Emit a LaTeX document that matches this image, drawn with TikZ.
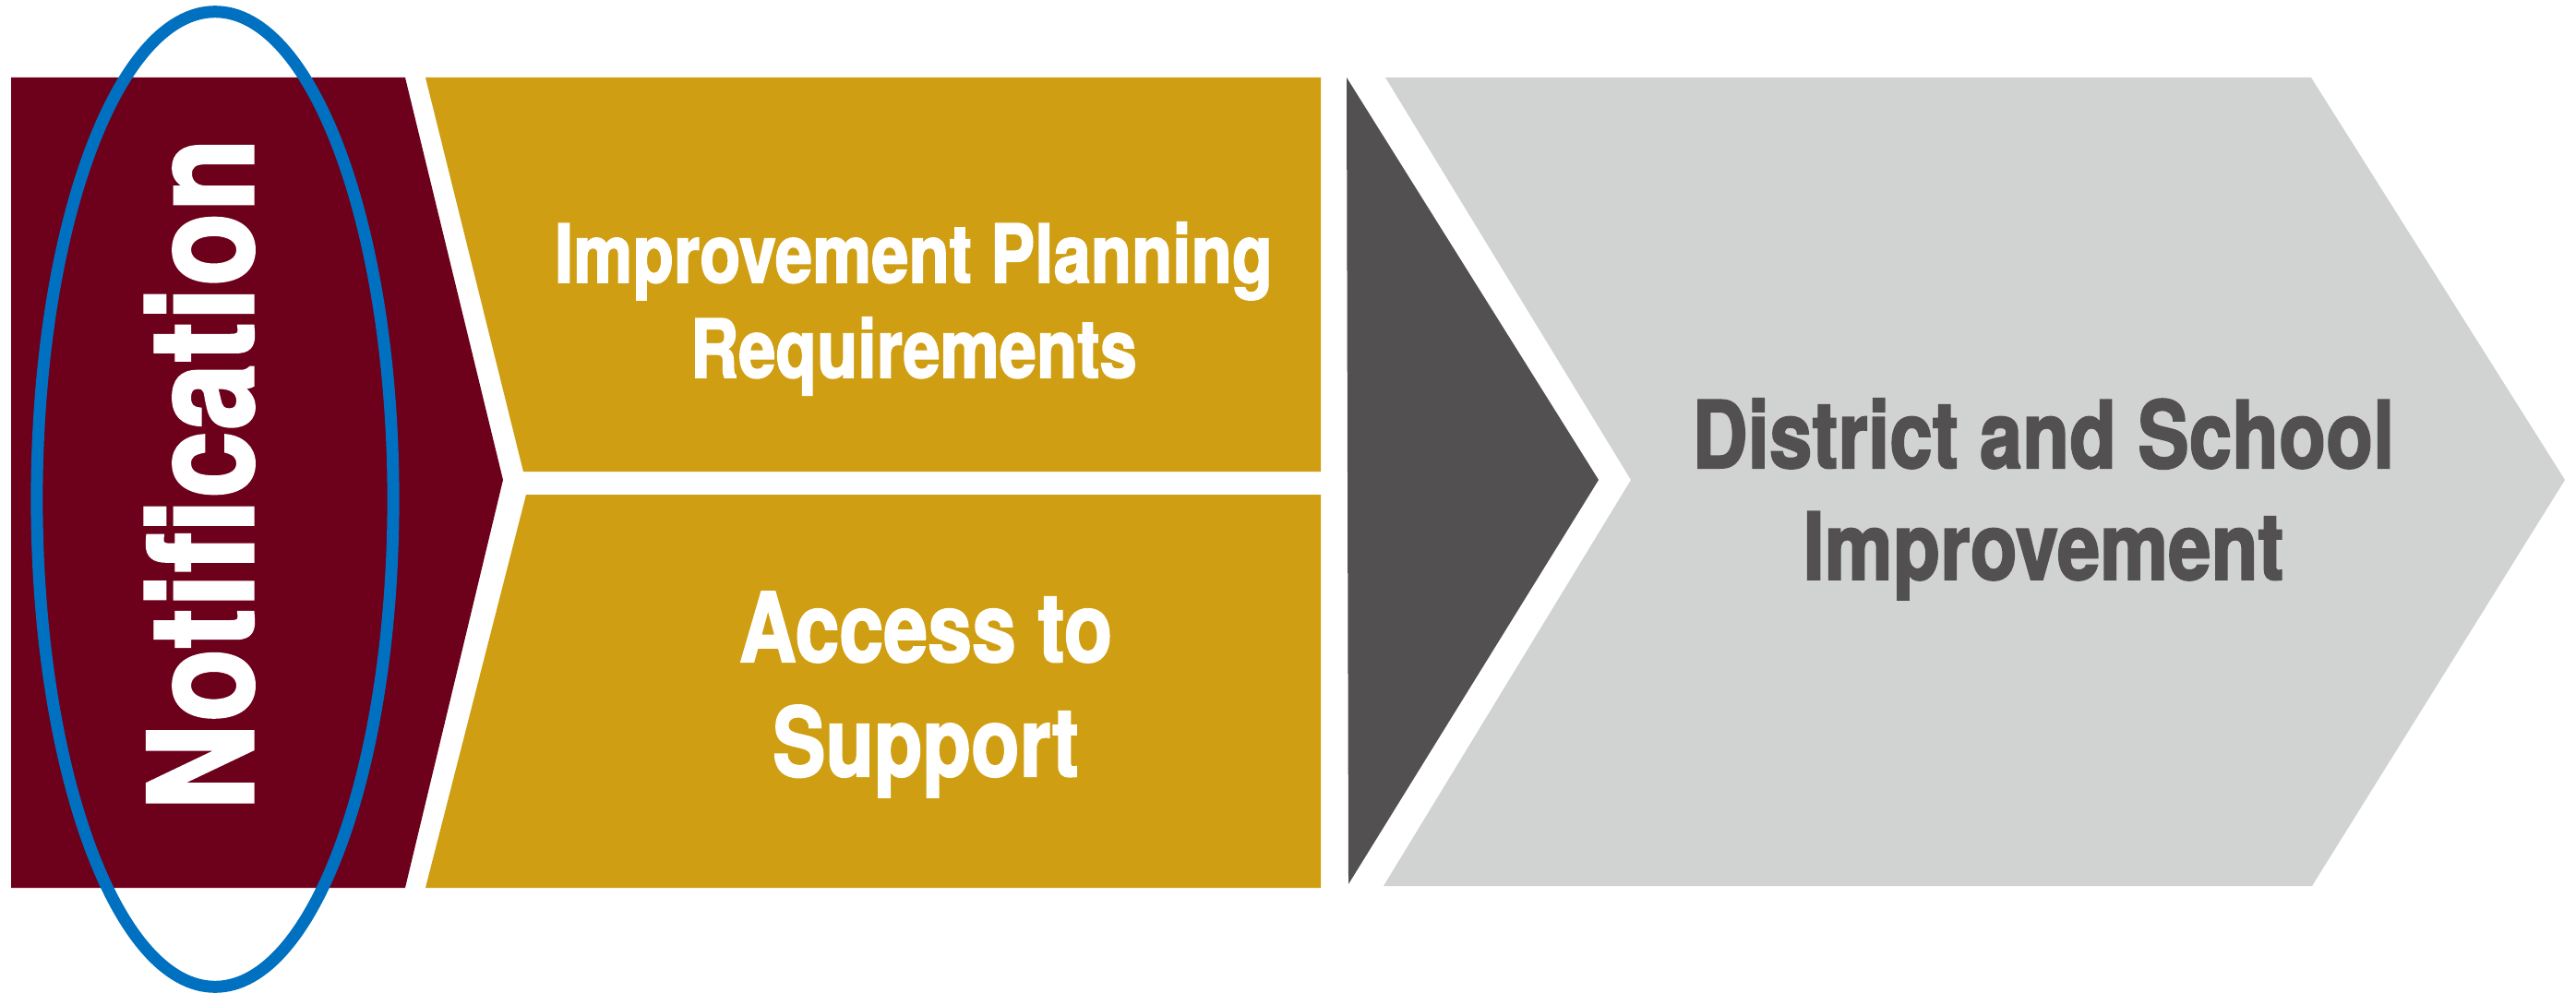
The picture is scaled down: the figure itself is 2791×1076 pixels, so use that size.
\documentclass[tikz,border=0pt]{standalone}
\usepackage{fontspec}
\newfontfamily\condfont[FakeStretch=0.82,LetterSpace=0.4,FakeBold=2]{TeX Gyre Heros}
\newfontfamily\condwide[FakeStretch=0.82,LetterSpace=1.2,FakeBold=2]{TeX Gyre Heros}
\definecolor{maroon}{RGB}{109,0,27}
\definecolor{gold}{RGB}{208,158,18}
\definecolor{darkgray}{RGB}{82,80,81}
\definecolor{lightgray}{RGB}{209,211,210}
\definecolor{ringblue}{RGB}{0,112,192}
\tikzset{
  lbl/.style={inner sep=0pt,outer sep=0pt,anchor=base},
}
\newcommand{\twoline}[4]{% size, skip, line1, line2
  {\condfont\bfseries\fontsize{#1}{#2}\selectfont\setlength{\tabcolsep}{0pt}%
   \begin{tabular}[t]{c}#3\\#4\end{tabular}}}
\begin{document}
\begin{tikzpicture}[x=0.01cm,y=-0.01cm]
\useasboundingbox (0,0) rectangle (2791,1076);
% shapes
\fill[maroon] (12,84) -- (439,84) -- (545,520) -- (439,962) -- (12,962) -- cycle;
\fill[gold] (461,84) -- (1431,84) -- (1431,511) -- (567,511) -- cycle;
\fill[gold] (570,536) -- (1431,536) -- (1431,962) -- (461,962) -- cycle;
\fill[darkgray] (1459,84) -- (1732,520) -- (1461,958) -- cycle;
\fill[lightgray] (1501,84) -- (2504,84) -- (2779,520) -- (2505,960) -- (1499,960) -- (1767,520) -- cycle;
% labels
\node[lbl,rotate=90,text=white] (notif) at (274,514)
  {\condwide\bfseries\fontsize{44.7pt}{50pt}\selectfont Notification};
\node[lbl,text=white] (plan) at (990,306)
  {\twoline{24.9pt}{29.3pt}{Improvement Planning}{Requirements}};
\node[lbl,text=white] (access) at (1003,717)
  {\twoline{29.6pt}{35.3pt}{Access to}{Support}};
\node[lbl,text=darkgray] (dsi) at (2214,507)
  {\twoline{28.7pt}{34.4pt}{District and School}{Improvement}};
% highlight ring
\draw[ringblue,line width=0.13cm] (233,541) ellipse [x radius=1.93cm, y radius=5.28cm];
\end{tikzpicture}
\end{document}
